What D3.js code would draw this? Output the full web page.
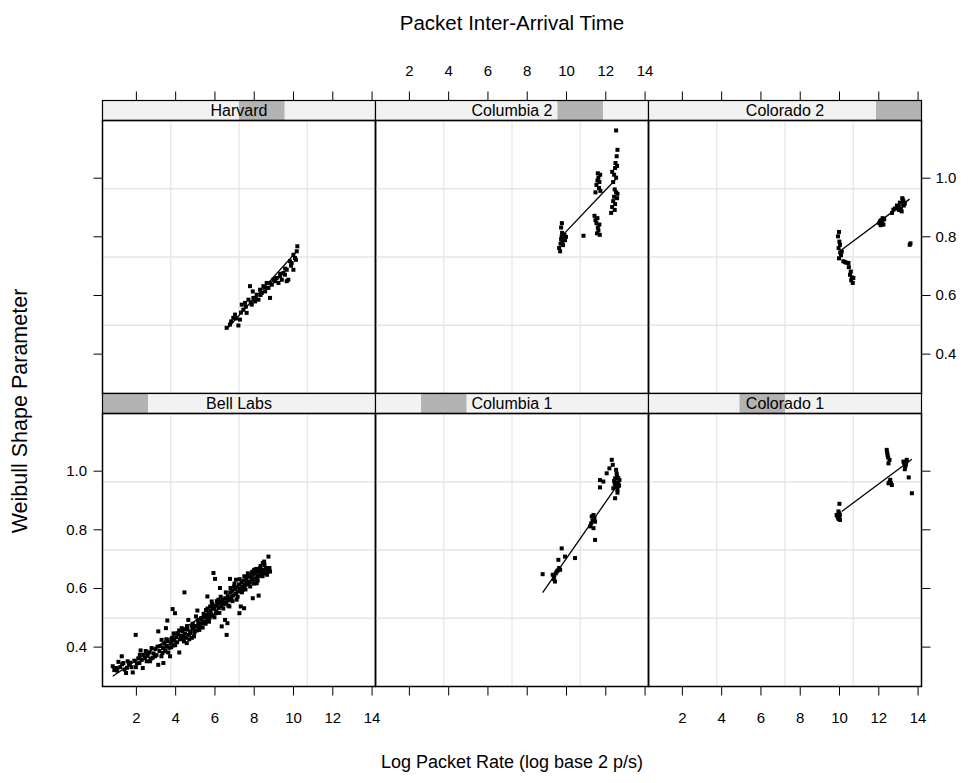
<!DOCTYPE html>
<html lang="en">
<head>
    <meta charset="UTF-8">
    <title>Weibull Shape Parameter</title>
    <script src="https://d3js.org/d3.v7.min.js"></script>
    <style>
        body { margin: 0; background: #fff; }
        text { font-family: "Liberation Sans", Arial, Helvetica, sans-serif; fill: #000; }
    </style>
</head>
<body>
<script>
    const width = 969;
    const height = 783;

    // panel order: top row then bottom row, left to right
    const sites = ["Harvard", "Columbia 2", "Colorado 2", "Bell Labs", "Columbia 1", "Colorado 1"];
    // position of each site among the strip levels (0 = Bell Labs ... 5 = Colorado 2)
    const stripLevel = [3, 4, 5, 0, 1, 2];

    const xTicks = [2, 4, 6, 8, 10, 12, 14];
    const yTicks = [0.4, 0.6, 0.8, 1.0];

    // fitted lines: intercept, slope, x range
    const fitIntercept = [-0.010, 0.112, 0.246, 0.262, -0.263, 0.355];
    const fitSlope     = [0.0745, 0.0704, 0.0501, 0.0450, 0.0962, 0.0499];
    const fitFrom      = [6.62, 9.70, 10.02, 0.82, 8.81, 10.14];
    const fitTo        = [10.22, 12.62, 13.59, 8.83, 12.45, 13.71];

    const harvard = [
        [6.62,0.488],[6.79,0.499],[6.96,0.522],[7.05,0.533],[7.22,0.496],[7.30,0.516],[7.39,0.567],
        [7.47,0.550],[7.56,0.573],[7.64,0.539],[7.73,0.584],[7.81,0.630],[7.90,0.567],[7.98,0.590],
        [7.95,0.612],[8.07,0.578],[8.15,0.601],[8.24,0.584],[8.32,0.618],[8.41,0.607],[8.49,0.630],
        [8.58,0.612],[8.66,0.641],[8.75,0.624],[8.83,0.590],[8.92,0.635],[9.00,0.652],[9.09,0.647],
        [9.17,0.658],[9.26,0.641],[9.34,0.664],[9.43,0.652],[9.51,0.675],[9.59,0.669],[9.68,0.686],
        [9.76,0.652],[9.85,0.715],[9.93,0.709],[10.02,0.737],[10.10,0.726],[10.19,0.749],[10.22,0.766],
        [10.02,0.686],[9.68,0.647],[6.85,0.510],[7.10,0.520],[7.35,0.540],[7.60,0.560],[7.85,0.575],
        [8.10,0.590],[8.35,0.600],[8.60,0.625],[8.85,0.640],[9.10,0.655],[9.35,0.672],[9.60,0.690],
        [9.90,0.700],[10.15,0.720]
    ];

    const columbia2 = [
        [9.65,0.760],[9.70,0.749],[9.72,0.775],[9.75,0.790],[9.78,0.800],[9.80,0.812],[9.82,0.784],
        [9.85,0.770],[9.88,0.795],[9.92,0.805],[9.79,0.845],[9.75,0.830],[9.95,0.787],[10.00,0.798],
        [10.89,0.802],[11.45,0.870],[11.50,0.855],[11.55,0.845],[11.60,0.862],[11.62,0.830],
        [11.65,0.820],[11.58,0.810],[11.70,0.840],[11.72,0.805],[11.55,0.975],[11.60,0.990],
        [11.65,1.000],[11.70,0.985],[11.74,1.010],[11.68,0.965],[11.75,0.955],[11.62,1.015],
        [11.50,0.950],[12.30,0.880],[12.35,0.900],[12.40,0.920],[12.45,0.935],[12.50,0.910],
        [12.55,0.950],[12.48,0.890],[12.60,0.930],[12.62,0.945],[12.45,1.010],[12.50,1.033],
        [12.55,1.000],[12.52,1.050],[12.58,1.073],[12.62,1.095],[12.55,1.161],[12.40,0.985],
        [12.35,1.020],[12.60,1.040],[12.48,0.960]
    ];

    const colorado2 = [
        [9.95,0.800],[10.00,0.815],[10.02,0.782],[10.05,0.771],[9.98,0.760],[10.06,0.745],[10.10,0.735],
        [10.14,0.748],[10.00,0.725],[10.22,0.715],[10.30,0.712],[10.38,0.710],[10.48,0.709],[10.50,0.695],
        [10.56,0.669],[10.60,0.680],[10.65,0.660],[10.73,0.658],[10.70,0.641],[10.62,0.650],[12.05,0.845],
        [12.09,0.851],[12.15,0.855],[12.20,0.848],[12.26,0.840],[12.30,0.858],[12.12,0.838],[12.22,0.862],
        [12.70,0.880],[12.77,0.891],[12.85,0.895],[12.95,0.905],[13.02,0.902],[13.10,0.915],[13.15,0.895],
        [13.19,0.885],[13.25,0.925],[13.28,0.919],[13.30,0.905],[13.22,0.930],[13.35,0.912],[13.05,0.890],
        [13.60,0.771],[13.64,0.776]
    ];

    const bellLabs = [
        [0.82,0.333],[0.99,0.327],[1.11,0.348],[1.28,0.367],[1.36,0.344],[1.50,0.310],[1.58,0.350],
        [1.84,0.312],[1.99,0.440],[2.18,0.344],[2.24,0.387],[2.35,0.327],[2.46,0.361],[2.63,0.378],
        [2.72,0.350],[2.80,0.395],[2.97,0.367],[3.14,0.338],[3.14,0.452],[3.31,0.423],[3.40,0.344],
        [3.48,0.384],[3.53,0.463],[3.60,0.489],[3.74,0.367],[3.82,0.423],[3.87,0.528],[3.99,0.514],
        [4.11,0.446],[4.21,0.380],[4.33,0.463],[4.42,0.435],[4.47,0.585],[4.59,0.412],[4.67,0.491],
        [4.76,0.446],[4.84,0.469],[4.96,0.435],[5.06,0.503],[5.13,0.523],[5.23,0.457],[5.32,0.497],
        [5.44,0.480],[5.57,0.525],[5.64,0.571],[5.69,0.503],[5.78,0.537],[5.86,0.554],[5.95,0.651],
        [6.03,0.631],[6.08,0.514],[6.20,0.560],[6.28,0.600],[6.37,0.469],[6.45,0.548],[6.54,0.491],
        [6.62,0.440],[6.66,0.480],[6.76,0.537],[6.79,0.631],[6.88,0.571],[7.00,0.605],[7.10,0.628],
        [7.13,0.560],[7.27,0.514],[7.34,0.537],[7.44,0.594],[7.51,0.531],[7.61,0.628],[7.73,0.616],
        [7.81,0.645],[7.95,0.565],[8.02,0.662],[8.15,0.616],[8.25,0.574],[8.32,0.668],[8.46,0.685],
        [8.53,0.690],[8.63,0.664],[8.75,0.707],[8.83,0.656],
        [1.05,0.318],[1.20,0.330],[1.42,0.322],[1.65,0.338],[1.78,0.330],[1.92,0.352],[2.05,0.343],
        [2.12,0.360],[2.30,0.355],[2.40,0.372],[2.55,0.350],[2.60,0.368],[2.70,0.381],[2.85,0.362],
        [2.90,0.377],[3.00,0.392],[3.05,0.371],[3.20,0.385],[3.25,0.402],[3.30,0.367],[3.38,0.395],
        [3.45,0.410],[3.50,0.388],[3.58,0.402],[3.62,0.418],[3.70,0.396],[3.78,0.412],[3.85,0.430],
        [3.90,0.404],[3.95,0.420],[4.05,0.432],[4.10,0.415],[4.15,0.441],[4.25,0.425],[4.30,0.437],
        [4.38,0.452],[4.45,0.418],[4.50,0.444],[4.55,0.430],[4.62,0.458],[4.70,0.440],[4.78,0.452],
        [4.85,0.430],[4.90,0.462],[4.98,0.448],[5.05,0.470],[5.10,0.455],[5.18,0.480],[5.22,0.462],
        [5.30,0.478],[5.35,0.492],[5.40,0.465],[5.48,0.500],[5.52,0.485],[5.58,0.505],[5.62,0.492],
        [5.70,0.515],[5.75,0.498],[5.80,0.522],[5.85,0.510],[5.90,0.532],[5.93,0.505],[6.00,0.528],
        [6.05,0.540],[6.10,0.520],[6.15,0.546],[6.22,0.532],[6.30,0.552],[6.35,0.538],[6.40,0.560],
        [6.48,0.545],[6.55,0.565],[6.60,0.550],[6.68,0.572],[6.72,0.558],[6.80,0.585],[6.85,0.562],
        [6.90,0.590],[6.95,0.575],[7.05,0.595],[7.10,0.580],[7.15,0.602],[7.20,0.588],[7.25,0.612],
        [7.30,0.598],[7.38,0.618],[7.42,0.604],[7.48,0.625],[7.55,0.610],[7.60,0.632],[7.65,0.615],
        [7.70,0.638],[7.78,0.622],[7.85,0.640],[7.90,0.628],[7.95,0.645],[8.05,0.632],[8.10,0.650],
        [8.18,0.638],[8.22,0.655],[8.30,0.642],[8.38,0.660],[8.42,0.648],[8.50,0.662],[8.58,0.650],
        [8.65,0.668],[8.70,0.655],[8.78,0.662],
        [2.20,0.372],[2.50,0.385],[2.75,0.358],[3.10,0.400],[3.35,0.378],[3.55,0.425],[3.65,0.380],
        [3.80,0.398],[3.92,0.445],[4.00,0.405],[4.20,0.455],[4.35,0.428],[4.45,0.460],[4.60,0.470],
        [4.72,0.425],[4.90,0.478],[5.00,0.455],[5.15,0.490],[5.25,0.470],[5.45,0.512],[5.55,0.478],
        [5.65,0.530],[5.72,0.485],[5.88,0.545],[6.00,0.500],[6.12,0.555],[6.25,0.515],[6.32,0.570],
        [6.45,0.530],[6.58,0.585],[6.70,0.540],[6.82,0.600],[6.92,0.555],[7.02,0.615],[7.18,0.570],
        [7.28,0.630],[7.40,0.585],[7.52,0.640],[7.58,0.595],[7.70,0.650],[7.82,0.605],[7.92,0.655],
        [8.00,0.615],[8.12,0.665],[8.20,0.625],[8.35,0.675],[8.45,0.640],[8.55,0.678],[8.68,0.645],
        [8.80,0.668],[1.30,0.340],[1.70,0.345],[2.00,0.330],[1.55,0.328],[0.90,0.320]
    ];

    const columbia1 = [
        [8.81,0.647],[9.32,0.645],[9.44,0.622],[9.53,0.656],[9.70,0.662],[9.78,0.735],[9.95,0.707],
        [9.61,0.696],[10.46,0.702],[9.40,0.640],[9.48,0.650],[9.58,0.660],[9.65,0.668],[9.38,0.630],
        [11.23,0.810],[11.31,0.844],[11.40,0.849],[11.48,0.826],[11.40,0.804],[11.48,0.764],[11.35,0.830],
        [11.28,0.820],[11.45,0.838],[11.73,0.968],[11.73,0.943],[11.90,0.963],[12.07,0.991],[12.21,1.008],
        [12.33,1.037],[12.38,1.020],[12.50,0.974],[12.58,0.957],[12.67,0.948],[12.50,0.906],[12.62,0.935],
        [12.41,0.940],[12.72,0.968],[12.55,1.003],[12.60,0.980],[12.65,0.960],[12.55,0.945],[12.62,0.925],
        [12.48,0.955],[12.70,0.950],[12.58,0.990],[12.45,0.965],[12.66,0.975]
    ];

    const colorado1 = [
        [10.02,0.887],[9.97,0.861],[10.02,0.844],[9.88,0.849],[10.05,0.832],[9.95,0.840],[10.00,0.855],
        [9.92,0.845],[10.04,0.850],[9.98,0.835],[12.43,1.071],[12.47,1.054],[12.52,1.025],[12.57,1.037],
        [12.45,1.062],[12.50,1.045],[12.61,0.969],[12.52,0.957],[12.69,0.951],[12.58,0.962],[12.64,0.958],
        [13.28,1.031],[13.37,1.014],[13.45,1.037],[13.32,1.025],[13.40,1.020],[13.35,1.005],[13.42,1.030],
        [13.55,0.977],[13.71,0.923]
    ];

    const siteData = [harvard, columbia2, colorado2, bellLabs, columbia1, colorado1];

    // layout
    const panelW = 273, panelH = 273, stripH = 20;
    const marginLeft = 102.5, marginTop = 100.5, tickLen = 9;
    const tickFont = "15px", stripFont = "16px";

    const x = d3.scaleLinear().domain([0.3, 14.2]).range([0, panelW]);
    const y = d3.scaleLinear().domain([0.264, 1.195]).range([panelH, 0]);
    const strip = d3.scaleLinear().domain([0, 6]).range([0, panelW]);

    const svg = d3.select("body").append("svg")
            .attr("width", width).attr("height", height);

    const gridX = d3.range(1, 4).map(i => x.domain()[0] + i * (x.domain()[1] - x.domain()[0]) / 4);
    const gridY = d3.range(1, 4).map(i => y.domain()[0] + i * (y.domain()[1] - y.domain()[0]) / 4);

    sites.forEach(function(site, i) {
        const col = i % 3, row = Math.floor(i / 3);
        const px = marginLeft + col * panelW;
        const sy = marginTop + row * (panelH + stripH);
        const py = sy + stripH;

        // strip
        const s = svg.append("g").attr("transform", `translate(${px},${sy})`);
        s.append("rect").attr("width", panelW).attr("height", stripH).style("fill", "#f2f2f2");
        s.append("rect")
                .attr("x", strip(stripLevel[i])).attr("width", strip(1) - strip(0))
                .attr("height", stripH).style("fill", "#b3b3b3");
        s.append("text").attr("x", panelW / 2).attr("y", stripH / 2 + 5.8)
                .attr("text-anchor", "middle").style("font-size", stripFont).text(site);
        s.append("rect").attr("width", panelW).attr("height", stripH)
                .style("fill", "none").style("stroke", "#000").style("stroke-width", 1.2);

        // panel
        const g = svg.append("g").attr("transform", `translate(${px},${py})`);
        g.append("g").selectAll("line.gx").data(gridX).enter().append("line")
                .attr("x1", d => x(d)).attr("x2", d => x(d)).attr("y1", 0).attr("y2", panelH)
                .style("stroke", "#e6e6e6").style("stroke-width", 1.3);
        g.append("g").selectAll("line.gy").data(gridY).enter().append("line")
                .attr("y1", d => y(d)).attr("y2", d => y(d)).attr("x1", 0).attr("x2", panelW)
                .style("stroke", "#e6e6e6").style("stroke-width", 1.3);

        g.append("g").selectAll("rect").data(siteData[i]).enter().append("rect")
                .attr("x", d => x(d[0]) - 2).attr("y", d => y(d[1]) - 2)
                .attr("width", 4).attr("height", 4).style("fill", "#000");

        const fit = t => fitIntercept[i] + fitSlope[i] * t;
        g.append("line")
                .attr("x1", x(fitFrom[i])).attr("y1", y(fit(fitFrom[i])))
                .attr("x2", x(fitTo[i])).attr("y2", y(fit(fitTo[i])))
                .style("stroke", "#000").style("stroke-width", 1.3);

        g.append("rect").attr("width", panelW).attr("height", panelH)
                .style("fill", "none").style("stroke", "#000").style("stroke-width", 1.5);

        // x axis: ticks on both sides, labels alternate
        const bottomAx = d3.axisBottom(x).tickValues(xTicks).tickSize(tickLen).tickSizeOuter(0)
                .tickPadding(16.5).tickFormat(col === 1 ? "" : d3.format("d"));
        const topAx = d3.axisTop(x).tickValues(xTicks).tickSize(tickLen).tickSizeOuter(0)
                .tickPadding(15.5).tickFormat(col === 1 ? d3.format("d") : "");
        if (row === 1) {
            svg.append("g").attr("class", "axis")
                    .attr("transform", `translate(${px},${py + panelH})`).call(bottomAx);
        } else {
            svg.append("g").attr("class", "axis")
                    .attr("transform", `translate(${px},${sy})`).call(topAx);
        }

        // y axis
        const yl = d3.axisLeft(y).tickValues(yTicks).tickSize(tickLen).tickSizeOuter(0)
                .tickPadding(6.5).tickFormat(row === 1 ? d3.format(".1f") : "");
        const yr = d3.axisRight(y).tickValues(yTicks).tickSize(tickLen).tickSizeOuter(0)
                .tickPadding(5).tickFormat(row === 0 ? d3.format(".1f") : "");
        if (col === 0) {
            svg.append("g").attr("class", "axis")
                    .attr("transform", `translate(${px},${py})`).call(yl);
        }
        if (col === 2) {
            svg.append("g").attr("class", "axis")
                    .attr("transform", `translate(${px + panelW},${py})`).call(yr);
        }
    });

    svg.selectAll(".axis path.domain").remove();
    svg.selectAll(".axis line").style("stroke", "#000").style("stroke-width", 1);
    svg.selectAll(".axis text").style("font-size", tickFont)
            .style("font-family", "'Liberation Sans', Arial, sans-serif");

    const mid = marginLeft + 1.5 * panelW;
    svg.append("text").attr("x", mid).attr("y", 30).attr("text-anchor", "middle")
            .style("font-size", "20.5px").text("Packet Inter-Arrival Time");
    svg.append("text").attr("x", mid).attr("y", 768).attr("text-anchor", "middle")
            .style("font-size", "18px").text("Log Packet Rate (log base 2 p/s)");
    svg.append("text").attr("transform", "translate(27,411) rotate(-90)")
            .attr("text-anchor", "middle").style("font-size", "21.5px").text("Weibull Shape Parameter");
</script>

</body>
</html>
